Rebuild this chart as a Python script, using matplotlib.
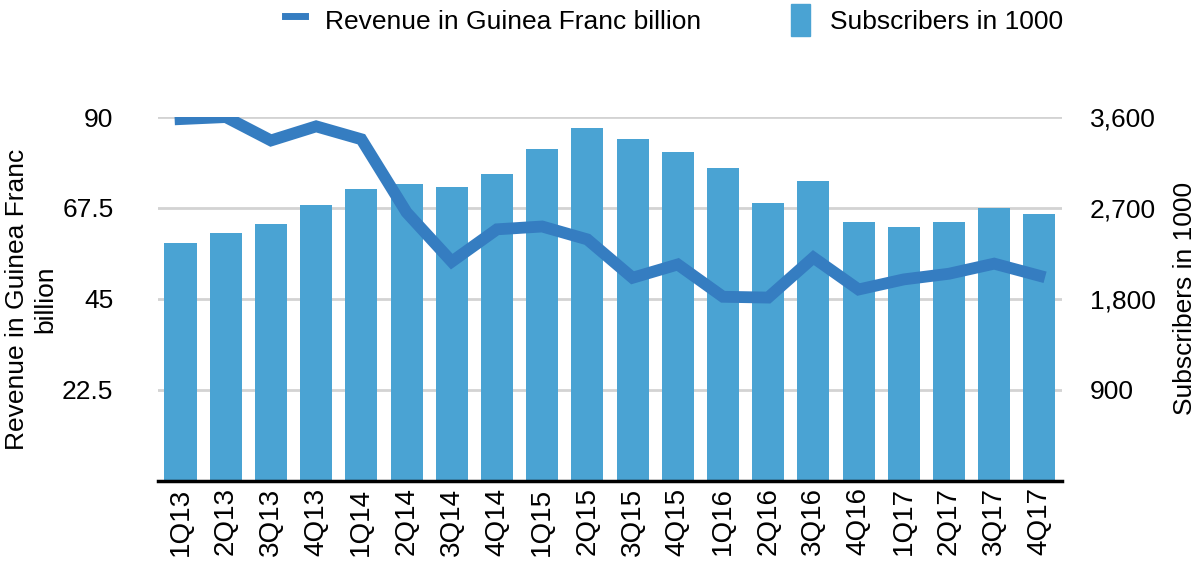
import matplotlib.pyplot as plt
import numpy as np
from matplotlib.lines import Line2D
from matplotlib.patches import Patch

plt.rcParams["font.family"] = ["Liberation Sans", "DejaVu Sans"]

quarters = ["1Q13", "2Q13", "3Q13", "4Q13", "1Q14", "2Q14", "3Q14", "4Q14",
            "1Q15", "2Q15", "3Q15", "4Q15", "1Q16", "2Q16", "3Q16", "4Q16",
            "1Q17", "2Q17", "3Q17", "4Q17"]
revenue = [89.5, 90.0, 84.2, 87.7, 84.5, 66.4, 54.2, 62.2, 62.9, 59.7,
           50.2, 53.5, 45.5, 45.3, 55.2, 47.3, 49.8, 51.2, 53.7, 50.7]
subscribers = [2348, 2456, 2536, 2724, 2884, 2932, 2904, 3040, 3280, 3488,
               3380, 3252, 3092, 2744, 2964, 2564, 2508, 2564, 2696, 2644]

BAR = "#4AA3D3"
LINE = "#357DC1"
FS = 19

fig = plt.figure(figsize=(12.02, 5.63), dpi=100)
ax = fig.add_axes([0.1314, 0.1465, 0.7521, 0.6456])
ax2 = ax.twinx()

x = np.arange(len(quarters))
# bars on the right axis (subscribers), drawn below the line
ax2.bar(x, subscribers, width=0.71, color=BAR, zorder=2)
ax2.set_ylim(0, 3600)
ax.set_ylim(0, 90)
ax.set_xlim(-0.5, len(quarters) - 0.5)

ax.set_zorder(ax2.get_zorder() + 1)
ax.patch.set_visible(False)
ax.plot(x, revenue, color=LINE, lw=8.5, solid_joinstyle="miter", zorder=3)

# gridlines drawn on the bar axis so they sit behind the bars
for v in [900, 1800, 2700, 3600]:
    ax2.axhline(v, color="#d3d3d3", lw=2, zorder=1)

ax.set_yticks([22.5, 45, 67.5, 90])
ax.set_yticklabels(["22.5", "45", "67.5", "90"])
ax2.set_yticks([900, 1800, 2700, 3600])
ax2.set_yticklabels(["900", "1,800", "2,700", "3,600"])
ax.set_xticks(x)
ax.set_xticklabels(quarters, rotation=90)

for a in (ax, ax2):
    for s in ("top", "left", "right", "bottom"):
        a.spines[s].set_visible(False)
    a.tick_params(length=0, labelsize=FS)
ax.spines["bottom"].set_visible(True)
ax.spines["bottom"].set_linewidth(2.5)
ax.spines["bottom"].set_color("black")
ax.tick_params(axis="y", pad=32)
ax2.tick_params(axis="y", pad=20)
ax.tick_params(axis="x", pad=5, labelsize=20)

# left axis title, two centred lines
fig.text(31 / 1202, 1 - 299 / 563, "Revenue in Guinea Franc\nbillion",
         rotation=90, ha="center", va="center", multialignment="center",
         fontsize=FS, linespacing=1.2)
ax2.set_ylabel("Subscribers in 1000", fontsize=FS, labelpad=12)

handles = [Line2D([0], [0], color=LINE, lw=5),
           Patch(color=BAR)]
fig.legend(handles, ["Revenue in Guinea Franc billion", "Subscribers in 1000"],
           loc="upper center", bbox_to_anchor=(0.561, 1.035), ncol=2,
           frameon=False, fontsize=FS, handlelength=0.75, handleheight=1.5,
           columnspacing=3.4, handletextpad=0.75)

fig.savefig("out.png", dpi=100)
